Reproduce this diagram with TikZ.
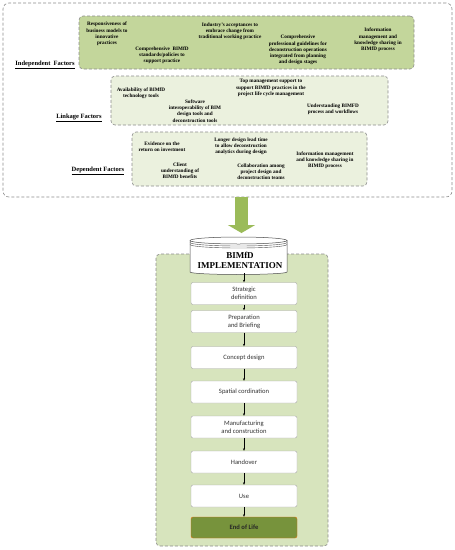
\documentclass[tikz,border=0pt]{standalone}
\usepackage{fontspec}
\newfontfamily\serifbf{Liberation Serif}
\newfontfamily\calib{Carlito}
\usetikzlibrary{arrows.meta}
\definecolor{indgreen}{HTML}{C3D69B}
\definecolor{palegreen}{HTML}{EBF1DE}
\definecolor{panelgreen}{HTML}{D7E4BD}
\definecolor{arrowgreen}{HTML}{9BBB59}
\definecolor{endgreen}{HTML}{77933C}
\definecolor{endline}{HTML}{E46C0A}
\definecolor{dashgray}{HTML}{8C8C8C}
\definecolor{stepgray}{HTML}{333333}
\begin{document}
\begin{tikzpicture}
[x=1pt,y=-1pt,
factorbox/.style={draw=dashgray,densely dashed,line width=0.6pt,rounded corners=4pt,inner sep=0pt},
factor/.style={font=\serifbf\bfseries\fontsize{5.2}{6.2}\selectfont,align=center,inner sep=0pt},
group/.style={font=\serifbf\bfseries\fontsize{6.5}{8}\selectfont,inner sep=0pt},
stepbox/.style={draw=gray!70,fill=white,rounded corners=2pt,minimum width=106pt,minimum height=22pt,
                font=\calib\fontsize{6.6}{8.2}\selectfont,text=stepgray,align=center,inner sep=0pt},
flow/.style={-{Stealth[length=2.5pt,width=2pt]},line width=0.5pt,black}
]
\useasboundingbox (0,0) rectangle (455,550);
%\draw[red] (0,0) grid[step=50] (455,550);

% factors
\node[factorbox,rounded corners=6pt,minimum width=449pt,minimum height=194pt] (outer) at (227.5,100) {};
\node[factorbox,fill=indgreen,minimum width=335pt,minimum height=53pt] (ind) at (246.5,42.5) {};
\node[factorbox,fill=palegreen,minimum width=277pt,minimum height=49pt] (link) at (249.5,100.5) {};
\node[factorbox,fill=palegreen,minimum width=235pt,minimum height=54pt] (dep) at (249.5,159) {};

\node[group] (indlbl) at (45,65) {\underline{Independent\ \ Factors}};
\node[group] (linklbl) at (79,118) {\underline{Linkage Factors}};
\node[group] (deplbl) at (98,171) {\underline{Dependent Factors}};

\node[factor] (resp) at (107,34) {Responsiveness of\\business models to\\innovative\\practices};
\node[factor] (stand) at (162,55) {Comprehensive\ \ BIMfD\\standards/policies to\\support practice};
\node[factor] (accept) at (230,31) {Industry’s acceptances to\\embrace change from\\traditional working practice};
\node[factor] (guide) at (298,50) {Comprehensive\\professional guidelines for\\deconstruction operations\\integrated from planning\\and design stages};
\node[factor] (infoind) at (378,40) {Information\\management and\\knowledge sharing in\\BIMfD process};

\node[factor] (avail) at (141,93.5) {Availability of BIMfD\\technology tools};
\node[factor] (interop) at (195,111) {Software\\interoperability of BIM\\design tools and\\deconstruction tools};
\node[factor] (topmgmt) at (271,88) {Top management support to\\support BIMfD practices in the\\project life cycle management};
\node[factor] (underst) at (333,109) {Understanding BIMFD\\process and workflows};

\node[factor] (evid) at (162,147) {Evidence on the\\return on investment};
\node[factor] (lead) at (241,146) {Longer design lead time\\to allow deconstruction\\analytics during design};
\node[factor] (infodep) at (325,160) {Information management\\and knowledge sharing in\\BIMfD process};
\node[factor] (client) at (180,171) {Client\\understanding of\\BIMfD benefits};
\node[factor] (collab) at (261,172) {Collaboration among\\project design and\\deconstruction teams};

% block arrow down to the implementation
\coordinate (arrtip) at (241.5,233);
\draw[arrowgreen,line width=13pt,-{Triangle[length=8pt,width=27pt]}] (outer.south -| arrtip) -- (arrtip);

% implementation panel
\node[factorbox,fill=panelgreen,minimum width=172pt,minimum height=292pt] (panel) at (242,400) {};

\filldraw[fill=white,draw=gray!60!black,line width=0.5pt] (190,240.5) -- (190,272)
    arc[start angle=180,end angle=0,x radius=48.5,y radius=2.5] -- (287,240.5)
    arc[start angle=0,end angle=180,x radius=48.5,y radius=3.5] -- cycle;
\draw[gray!60!black,line width=0.5pt] (190,240.5) arc[start angle=180,end angle=360,x radius=48.5,y radius=3.5];
\draw[gray!60!black,line width=0.4pt] (190,242.5) arc[start angle=180,end angle=0,x radius=48.5,y radius=3.5];
\draw[gray!60!black,line width=0.4pt] (190,244.5) arc[start angle=180,end angle=0,x radius=48.5,y radius=3.5];
\node[font=\serifbf\bfseries\fontsize{9}{10}\selectfont,align=center,inner sep=0pt] (impl) at (240,260) {BIMfD\\IMPLEMENTATION};
\coordinate (implbot) at (244,273);

\node[stepbox] (s1) at (244,293.5) {Strategic\\definition};
\node[stepbox] (s2) at (244,321.5) {Preparation\\and Briefing};
\node[stepbox] (s3) at (244,357.5) {Concept design};
\node[stepbox] (s4) at (244,392) {Spatial cordination};
\node[stepbox] (s5) at (244,427) {Manufacturing\\and construction};
\node[stepbox] (s6) at (244,462) {Handover};
\node[stepbox] (s7) at (244,496) {Use};
\node[stepbox,fill=endgreen,draw=endline,minimum height=21pt,text=black!85,font=\calib\bfseries\fontsize{6.6}{8.2}\selectfont] (s8) at (244,527.5) {End of Life};

\draw[flow] (implbot) -- (s1);
\foreach \a/\b in {s1/s2,s2/s3,s3/s4,s4/s5,s5/s6,s6/s7,s7/s8}
    \draw[flow] (\a) -- (\b);
\end{tikzpicture}
\end{document}
